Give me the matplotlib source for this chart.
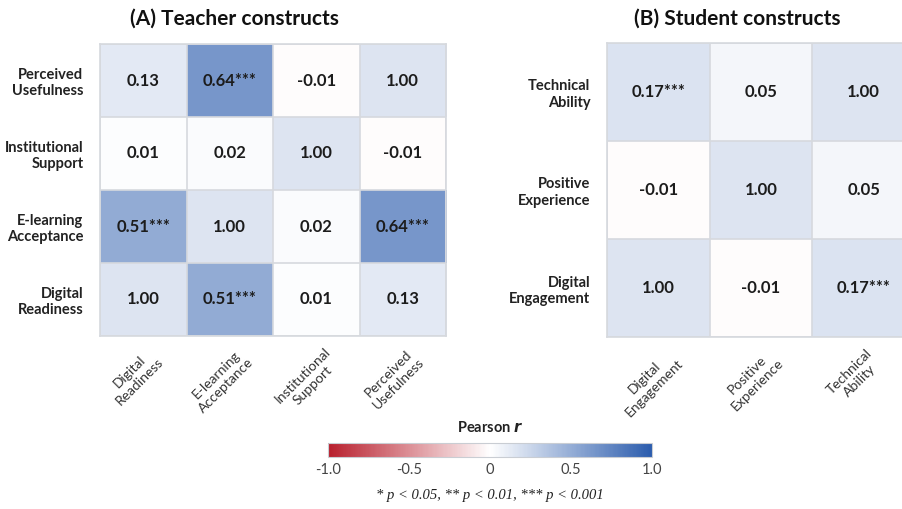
import numpy as np
import matplotlib
matplotlib.use("Agg")
import matplotlib.pyplot as plt
import matplotlib.transforms as mtransforms
from matplotlib.colors import LinearSegmentedColormap, Normalize, to_rgba
from matplotlib.cm import ScalarMappable

plt.rcParams['font.family'] = ['Lato', 'DejaVu Sans']

# ---------------- data ----------------
# rows / columns in the same order, first one drawn at the bottom
teacher_labels = ["Digital\nReadiness", "E-learning\nAcceptance",
                  "Institutional\nSupport", "Perceived\nUsefulness"]
teacher_r = np.array([
    [1.00, 0.51, 0.01, 0.13],
    [0.51, 1.00, 0.02, 0.64],
    [0.01, 0.02, 1.00, -0.01],
    [0.13, 0.64, -0.01, 1.00],
])
teacher_sig = [
    ["", "***", "", ""],
    ["***", "", "", "***"],
    ["", "", "", ""],
    ["", "***", "", ""],
]

student_labels = ["Digital\nEngagement", "Positive\nExperience", "Technical\nAbility"]
student_r = np.array([
    [1.00, -0.01, 0.17],
    [-0.01, 1.00, 0.05],
    [0.17, 0.05, 1.00],
])
student_sig = [
    ["", "", "***"],
    ["", "", ""],
    ["***", "", ""],
]

cbar_ticks = [-1.0, -0.5, 0, 0.5, 1.0]
cbar_ticklabels = ["-1.0", "-0.5", "0", "0.5", "1.0"]

# ---------------- style ----------------
cmap = LinearSegmentedColormap.from_list("rwb", ["#b81f2d", "#ffffff", "#2b5cad"])
norm = Normalize(-1, 1)
diag_color = "#dde4f1"
grid_color = "#d6d9de"


def draw_matrix(ax, r, sig, labels, fs_cell=12):
    n = r.shape[0]
    rgba = cmap(norm(r))
    for i in range(n):
        rgba[i, i] = to_rgba(diag_color)
    ax.imshow(rgba, origin="lower", aspect="auto",
              extent=(-0.5, n - 0.5, -0.5, n - 0.5))
    for i in range(n):
        for j in range(n):
            ax.text(j, i, f"{r[i, j]:.2f}{sig[i][j]}", ha="center", va="center",
                    fontsize=fs_cell, fontweight="bold", color="#1c1c1c")
    # thin cell borders
    ax.set_xticks(np.arange(-0.5, n), minor=True)
    ax.set_yticks(np.arange(-0.5, n), minor=True)
    ax.grid(which="minor", color=grid_color, linewidth=1.2)
    ax.tick_params(which="both", length=0)
    ax.set_xticks(range(n))
    ax.set_yticks(range(n))
    ax.set_yticklabels(labels, fontsize=10.5, fontweight="bold", color="#222222")
    ax.set_xticklabels(labels, fontsize=10, color="#333333", rotation=45,
                       ha="center", multialignment="center")
    ax.tick_params(axis="y", pad=12)
    ax.tick_params(axis="x", pad=7)
    shift = mtransforms.ScaledTranslation(-9 / 100, 0, ax.figure.dpi_scale_trans)
    for lab in ax.get_xticklabels():
        lab.set_transform(lab.get_transform() + shift)
    for s in ax.spines.values():
        s.set_color(grid_color)
        s.set_linewidth(1.2)


fig = plt.figure(figsize=(9.02, 5.09), dpi=100)

W, H = 902, 509
ax_a = fig.add_axes([100 / W, 1 - 336 / H, 346 / W, 292 / H])
ax_b = fig.add_axes([607 / W, 1 - 337 / H, 308 / W, 294 / H])

draw_matrix(ax_a, teacher_r, teacher_sig, teacher_labels)
draw_matrix(ax_b, student_r, student_sig, student_labels)

fig.text(234 / W, 1 - 19 / H, "(A) Teacher constructs", ha="center", va="center",
         fontsize=15, fontweight="bold", color="#111111")
fig.text(737 / W, 1 - 19 / H, "(B) Student constructs", ha="center", va="center",
         fontsize=15, fontweight="bold", color="#111111")

# colour bar
cax = fig.add_axes([328 / W, 1 - 457 / H, 324 / W, 14 / H])
cb = fig.colorbar(ScalarMappable(norm=norm, cmap=cmap), cax=cax, orientation="horizontal")
cb.set_ticks(cbar_ticks)
cb.set_ticklabels(cbar_ticklabels)
cax.tick_params(length=0, labelsize=10.5, labelcolor="#444444", pad=4)
cb.outline.set_edgecolor("#c9cdd3")
cb.outline.set_linewidth(0.8)
fig.text(490 / W, 1 - 428 / H, r"Pearson $\mathbfit{r}$", ha="center", va="center",
         fontsize=10.5, fontweight="bold", color="#222222")

fig.text(490 / W, 1 - 495 / H, "* p < 0.05, ** p < 0.01, *** p < 0.001",
         ha="center", va="center", fontsize=10.5, style="italic",
         family=["Liberation Serif", "DejaVu Serif"], color="#222222")

fig.savefig("out.png", dpi=100)
